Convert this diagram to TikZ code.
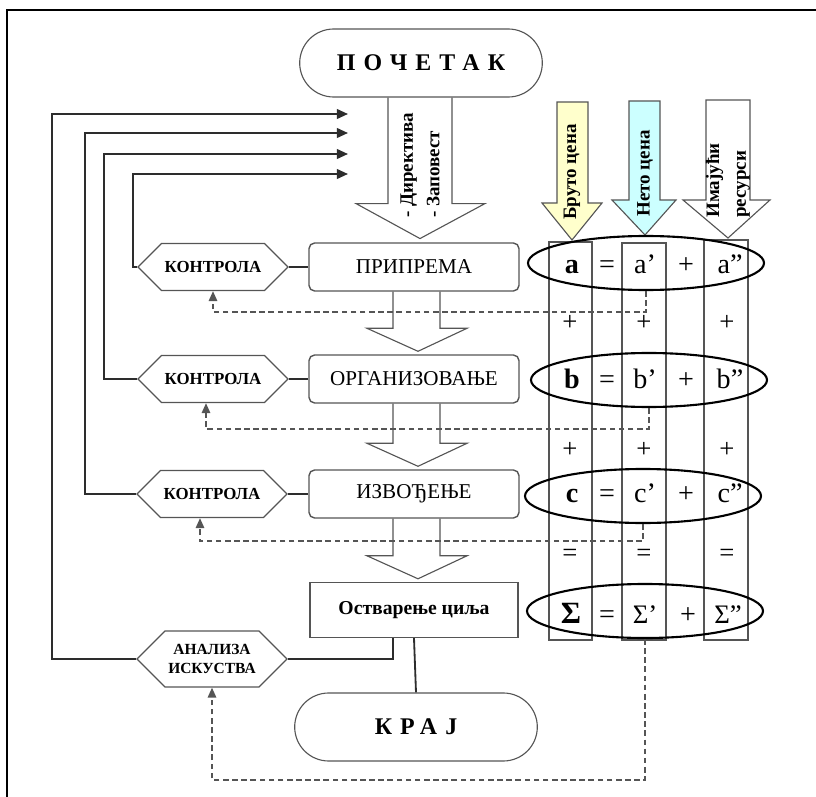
\documentclass[tikz,border=0pt]{standalone}
\usepackage{fontspec}
\setmainfont{Liberation Serif}
\definecolor{boxgray}{RGB}{85, 85, 85}
\definecolor{linegray}{RGB}{45, 45, 45}
\definecolor{dashgray}{RGB}{85, 85, 85}
\definecolor{brutoyellow}{RGB}{255, 255, 204}
\definecolor{netocyan}{RGB}{204, 255, 255}
\usetikzlibrary{shapes, arrows.meta, positioning, calc}

\begin{document}
\begin{tikzpicture}[x=0.25mm, y=-0.25mm,
    terminal/.style={draw=boxgray, line width=0.8pt, rounded rectangle, minimum width=63mm, minimum height=17mm, font=\fontsize{17}{20}\selectfont\bfseries\addfontfeatures{LetterSpace=34}},
    phase/.style={draw=boxgray, line width=1pt, rounded corners=4pt, minimum width=52.5mm, minimum height=12mm, font=\fontsize{15}{18}\selectfont},
    control/.style={draw=boxgray, line width=1pt, signal, signal to=west and east, signal pointer angle=90, minimum width=37.5mm, minimum height=11.75mm, inner sep=1pt, align=center, font=\fontsize{12}{13}\selectfont\bfseries},
    rowring/.style={draw=black, line width=1.5pt, ellipse, inner sep=0pt, minimum width=59mm, minimum height=13.5mm},
    cell/.style={anchor=base, inner sep=0pt, font=\fontsize{20}{24}\selectfont},
    op/.style={inner sep=0pt, font=\fontsize{19}{22}\selectfont},
    conn/.style={draw=linegray, line width=1.3pt},
    fb/.style={conn, -{Triangle[length=8pt, width=7pt]}},
    dashline/.style={draw=dashgray, line width=1.1pt, dash pattern=on 4pt off 2.5pt, -{Triangle[length=7pt, width=6pt]}},
    hollow/.style={draw=boxgray, line width=0.8pt},
    colbox/.style={draw=boxgray, line width=1pt},
    vlabel/.style={rotate=90, anchor=west, inner sep=0pt, align=left, font=\fontsize{13.5}{19}\selectfont\bfseries}]
  \useasboundingbox (0,0) rectangle (816,797);
  \draw[line width=2pt] (7,797) -- (7,10) -- (816,10);

  % Start, phases, end
  \node[terminal] (start) at (421,63) {ПОЧЕТАК};
  \node[phase] (prep) at (414,267) {ПРИПРЕМА};
  \node[phase] (org) at (414,379) {ОРГАНИЗОВАЊЕ};
  \node[phase] (exec) at (414,494) {ИЗВОЂЕЊЕ};
  \node[draw=boxgray, line width=1pt, minimum width=52mm, minimum height=13.75mm, font=\fontsize{14}{17}\selectfont\bfseries] (goal) at (414,610) {Остварење циља};
  \node[terminal] (stop) at (416,727) {КРАЈ};

  % Control hexagons
  \node[control] (ctl1) at (213,267) {КОНТРОЛА};
  \node[control] (ctl2) at (213,379) {КОНТРОЛА};
  \node[control] (ctl3) at (212,494) {КОНТРОЛА};
  \node[control, minimum height=14mm, font=\fontsize{11}{14}\selectfont\bfseries] (anl) at (212,659) {АНАЛИЗА\\ИСКУСТВА};

  % Directive arrow
  \draw[hollow] ($(start.south)+(-33,0)$) -- ($(start.south)+(-33,106)$) -- ($(start.south)+(-65,106)$) -- ($(start.south)+(-1,141)$) -- ($(start.south)+(64,106)$) -- ($(start.south)+(31,106)$) -- ($(start.south)+(31,0)$);
  \node[vlabel] (dir) at (420,218) {- Директива\\- Заповест};

  % Flow arrows between phases
  \foreach \a/\b in {prep/org, org/exec, exec/goal}
    \draw[hollow] ($(\a.south)+(-21,0)$) -- ($(\b.north)+(-21,-26)$) -- ($(\b.north)+(-47,-26)$) -- ($(\b.north)+(4,-3)$) -- ($(\b.north)+(53,-26)$) -- ($(\b.north)+(26,-26)$) -- ($(\a.south)+(26,0)$);

  \draw[conn] (ctl1.east) -- (prep.west);
  \draw[conn] (ctl2.east) -- (org.west);
  \draw[conn] (ctl3.east) -- (exec.west);
  \draw[conn] (anl.east) -| ($(goal.south)+(-21,0)$);
  \draw[conn] (goal.south) -- (stop.north);

  % Feedback to the top
  \coordinate (in1) at (348,174);
  \coordinate (in2) at (348,154);
  \coordinate (in3) at (348,133);
  \coordinate (in4) at (348,114);
  \draw[fb] (ctl1.west) -- ++(-4,0) |- (in1);
  \draw[fb] (ctl2.west) -- ++(-33,0) |- (in2);
  \draw[fb] (ctl3.west) -- ++(-51,0) |- (in3);
  \draw[fb] (anl.west) -- ++(-84,0) |- (in4);

  % Price arrows
  \draw[hollow, fill=brutoyellow] (557,102) -- (557,203) -- (542,203) -- (572,240) -- (602,203) -- (588,203) -- (588,102) -- cycle;
  \draw[hollow, fill=netocyan] (629,101) -- (629,200) -- (612,200) -- (645,235) -- (676,200) -- (660,200) -- (660,101) -- cycle;
  \draw[hollow, fill=white] (706,100) -- (706,200) -- (683,200) -- (728,238) -- (770,200) -- (750,200) -- (750,100) -- cycle;
  \node[vlabel] (bruto) at (572,220) {Бруто цена};
  \node[vlabel] (neto) at (645,217) {Нето цена};
  \node[vlabel] (res) at (728,218) {Имајући\\ресурси};

  % Table columns
  \draw[colbox] (549,242) rectangle (592,640);
  \draw[colbox, line width=1.4pt] (622,243) rectangle (666,640);
  \draw[colbox] (704,240) rectangle (748,640);

  % Rows
  \node[rowring] (rowA) at (646,263) {};
  \node[rowring] (rowB) at (649,380) {};
  \node[rowring] (rowC) at (643,496) {};
  \node[rowring] (rowS) at (645,611) {};
  \foreach \r/\y in {a/273, b/388, c/502} {
    \node[cell, font=\fontsize{20}{24}\selectfont\bfseries] (\r1) at (572,\y) {\r};
    \node[cell] (\r2) at (607,\y) {=};
    \node[cell] (\r3) at (645,\y) {\r'};
    \node[cell] (\r4) at (686,\y) {+};
    \node[cell] (\r5) at (730,\y) {\r''};
  }
  \node[cell, font=\fontsize{22}{26}\selectfont\bfseries] (s1) at (571,623) {Σ};
  \node[cell] (s2) at (607,623) {=};
  \node[cell, font=\fontsize{19}{24}\selectfont] (s3) at (645,623) {Σ'};
  \node[cell] (s4) at (688,623) {+};
  \node[cell, font=\fontsize{19}{24}\selectfont] (s5) at (728,623) {Σ''};
  \foreach \y/\o [count=\i] in {323/+, 450/+, 555/=} {
    \node[op] (p\i a) at (570,\y) {\o};
    \node[op] (p\i b) at (644,\y) {\o};
    \node[op] (p\i c) at (727,\y) {\o};
  }

  % Dashed feedback from the table
  \draw[dashline] (rowA.south) -- ++(0,21) -| (ctl1.south);
  \draw[dashline] (rowB.south) -- ++(0,21) -| ($(ctl2.south)+(-7,0)$);
  \draw[dashline] (rowC.south) -- ++(0,17) -| ($(ctl3.south)+(-12,0)$);
  \draw[dashline] (rowS.south) -- ++(0,141) -| (anl.south);
\end{tikzpicture}
\end{document}
